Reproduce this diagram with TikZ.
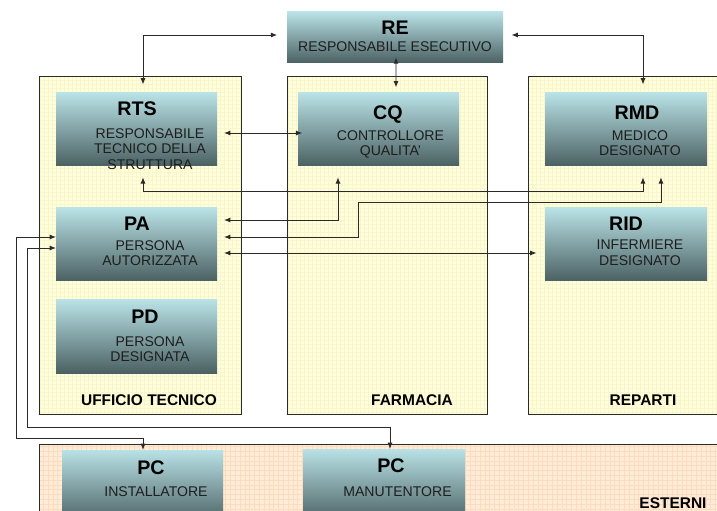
\documentclass[tikz,border=0pt]{standalone}
\usepackage{fontspec}
\setmainfont{Liberation Sans}
\usetikzlibrary{arrows.meta,calc}

\definecolor{unittop}{HTML}{B9E2E6}
\definecolor{unitbot}{HTML}{4B6163}
\definecolor{subtxt}{HTML}{1E1E1E}
\definecolor{grpyel}{HTML}{FFFFD9}
\definecolor{gridyel}{HTML}{F9F5CF}
\definecolor{grppch}{HTML}{FEEBD8}
\definecolor{gridpch}{HTML}{FBDCBE}
\definecolor{linkc}{HTML}{2A2A2A}

\tikzset{
	unit/.style={top color=unittop, bottom color=unitbot, inner sep=0pt, outer sep=0pt, anchor=north},
	ttl/.style={font=\fontsize{14}{16}\selectfont\bfseries, anchor=base, inner sep=0pt},
	sublines/.style={font=\fontsize{10}{11.3}\selectfont, text=subtxt, align=center, anchor=north, inner sep=0pt},
	grp/.style={font=\fontsize{11}{13}\selectfont\bfseries},
	link/.style={<->, draw=linkc, line width=0.7pt, shorten <=6pt, shorten >=6pt},
}

\begin{document}
\begin{tikzpicture}[x=0.025cm,y=-0.025cm,>={Latex[length=4.5pt,width=3.6pt]}]
		\clip (0,0) rectangle (717,511);
		\fill[white] (0,0) rectangle (717,511);
		% gruppi
		\fill[grpyel] (39,76) rectangle (241,414);
		\fill[grpyel] (287,76) rectangle (487,414);
		\fill[grpyel] (528,76) rectangle (740,414);
		\fill[grppch] (39,444) rectangle (740,530);
		\draw[gridyel, line width=0.2pt, step=0.1cm] (39,76) grid (241,414);
		\draw[gridyel, line width=0.2pt, step=0.1cm] (287,76) grid (487,414);
		\draw[gridyel, line width=0.2pt, step=0.1cm] (528,76) grid (740,414);
		\draw[gridpch, line width=0.3pt, step=0.12cm] (39,444) grid (740,530);
		\draw[linkc, line width=0.7pt] (39,76) rectangle (241,414);
		\draw[linkc, line width=0.7pt] (287,76) rectangle (487,414);
		\draw[linkc, line width=0.7pt] (528,76) rectangle (740,414);
		\draw[linkc, line width=0.7pt] (39,444) rectangle (740,530);
		\node[grp] (lut) at (149,400) {UFFICIO TECNICO};
		\node[grp] (lfa) at (412,400) {FARMACIA};
		\node[grp] (lre) at (643,400) {REPARTI};
		\node[grp] (les) at (673,503) {ESTERNI};
		% unita'
		\foreach \nm/\cx/\yt/\bw/\bh/\ttl/\lines/\tx/\sx/\ty/\sy in {
			re/395/12/216/51/RE/{RESPONSABILE ESECUTIVO}/0/0/23/29,
			rts/136.5/93/161/73/RTS/{RESPONSABILE\\TECNICO DELLA\\STRUTTURA}/0.5/13.5/23/35,
			cq/378.5/93/161/73/CQ/{CONTROLLORE\\QUALITA'}/9.5/12/27/37,
			rmd/626/93/162/73/RMD/{MEDICO\\DESIGNATO}/11/14/27/37,
			pa/136.5/208/161/73/PA/{PERSONA\\AUTORIZZATA}/0.5/13.5/23/32,
			rid/626/208/162/73/RID/{INFERMIERE\\DESIGNATO}/0/14/23/32,
			pd/136.5/300/161/73/PD/{PERSONA\\DESIGNATA}/8.5/13.5/24/36,
			pci/142.5/450/161/73/PC/{INSTALLATORE}/8.5/13.5/24/36,
			pcm/384/449/162/73/PC/{MANUTENTORE}/7/13.5/23/37}{
			\node[unit, minimum width=\bw*0.025cm, minimum height=\bh*0.025cm] (\nm) at (\cx,\yt) {};
			\node[ttl] at (\cx+\tx,\yt+\ty) {\ttl};
			\node[sublines] at (\cx+\sx,\yt+\sy) {\lines};
		}
		% collegamenti
		\draw[link, shorten <=7pt] ($(re.west)+(0,-2.5)$) -| ($(rts.north)+(6.5,0)$);
		\draw[link] ($(re.east)+(0,-2.5)$) -| ($(rmd.north)+(17,0)$);
		\draw[link, shorten <=-4pt, shorten >=4pt] ($(re.south)+(1,0)$) -- ($(cq.north)+(17.5,0)$);
		\draw[link, shorten <=5pt, shorten >=-3pt] ($(rts.east)+(0,3.5)$) -- ($(cq.west)+(0,3.5)$);
		\draw[link, shorten <=8pt, shorten >=8pt] ($(rts.south)+(6.5,0)$) -- ++(0,25) -| ($(rmd.south)+(17,0)$);
		\draw[link, shorten <=5pt, shorten >=8pt] ($(pa.east)+(0,-24.5)$) -| ($(cq.south)+(-40.5,0)$);
		\draw[link, shorten <=5pt, shorten >=8pt] ($(pa.east)+(0,-7.5)$) -| ($(cq.south)+(-20.5,36)$) -| ($(rmd.south)+(35,0)$);
		\draw[link, shorten <=5pt] ($(pa.east)+(0,8.5)$) -- ($(rid.west)+(0,8.5)$);
		\draw[link, shorten <=0pt, shorten >=0pt] ($(pa.west)+(0,-7.5)$) -| ($(pci.north)+(-126.5,-12)$) -| ($(pci.north)+(0.5,0)$);
		\draw[link, shorten <=0pt, shorten >=0pt] ($(pa.west)+(0,3.5)$) -| ($(pcm.north)+(-357,-22)$) -| ($(pcm.north)+(6,0)$);
	\end{tikzpicture}
\end{document}
